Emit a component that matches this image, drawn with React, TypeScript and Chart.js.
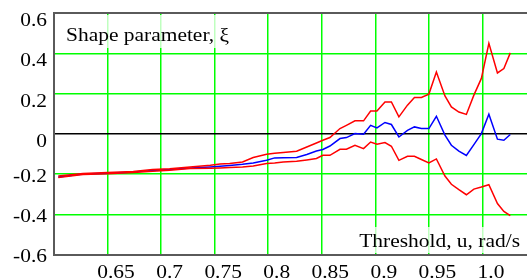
import React, { useEffect, useRef } from "react";
import { Chart, registerables } from "chart.js";

Chart.register(...registerables);

// Threshold values, u (rad/s)
const thresholds = [0.604, 0.627, 0.650, 0.674, 0.692, 0.708, 0.727, 0.746, 0.755, 0.764, 0.776, 0.786, 0.7985, 0.806, 0.814, 0.8265, 0.836, 0.845, 0.851, 0.8576, 0.867, 0.873, 0.881, 0.889, 0.8956, 0.9015, 0.909, 0.915, 0.922, 0.930, 0.9365, 0.943, 0.950, 0.957, 0.965, 0.971, 0.978, 0.985, 0.992, 0.999, 1.006, 1.014, 1.020, 1.026];
// Shape parameter estimate
const shapeEstimate = [-0.215, -0.200, -0.196, -0.190, -0.182, -0.178, -0.170, -0.165, -0.162, -0.158, -0.152, -0.145, -0.132, -0.120, -0.119, -0.118, -0.103, -0.086, -0.078, -0.061, -0.024, -0.019, 0.001, -0.002, 0.042, 0.029, 0.056, 0.046, -0.016, 0.017, 0.034, 0.026, 0.026, 0.087, -0.007, -0.057, -0.086, -0.108, -0.054, 0.001, 0.097, -0.027, -0.032, -0.004];
// Upper confidence bound
const shapeUpper = [-0.210, -0.197, -0.193, -0.187, -0.178, -0.174, -0.165, -0.157, -0.150, -0.148, -0.140, -0.118, -0.102, -0.097, -0.093, -0.087, -0.066, -0.046, -0.032, -0.019, 0.026, 0.042, 0.064, 0.064, 0.113, 0.113, 0.158, 0.158, 0.084, 0.142, 0.180, 0.180, 0.197, 0.307, 0.188, 0.133, 0.108, 0.096, 0.192, 0.275, 0.449, 0.302, 0.324, 0.402];
// Lower confidence bound
const shapeLower = [-0.218, -0.202, -0.199, -0.193, -0.186, -0.181, -0.173, -0.171, -0.170, -0.168, -0.165, -0.160, -0.148, -0.145, -0.140, -0.137, -0.130, -0.123, -0.107, -0.107, -0.077, -0.077, -0.057, -0.074, -0.041, -0.052, -0.044, -0.062, -0.132, -0.112, -0.112, -0.128, -0.145, -0.125, -0.210, -0.251, -0.278, -0.303, -0.275, -0.265, -0.253, -0.347, -0.386, -0.407];

const xTickValues = [0.65, 0.7, 0.75, 0.8, 0.85, 0.9, 0.95, 1.0];
const xTickLabels = ["0.65", "0.7", "0.75", "0.8", "0.85", "0.9", "0.95", "1.0"];
const yTickValues = [0.6, 0.4, 0.2, 0, -0.2, -0.4, -0.6];
const yTickLabels = ["0.6", "0.4", "0.2", "0", "-0.2", "-0.4", "-0.6"];

const yTitle = "Shape parameter, ξ";
const xTitle = "Threshold, u, rad/s";

const FONT = "19.5px 'Liberation Serif', 'Times New Roman', serif";
const SX = 1.1;
const GRID_GREEN = "rgb(0,255,0)";

function drawText(ctx: CanvasRenderingContext2D, text: string, x: number, y: number, align: CanvasTextAlign) {
  ctx.save();
  ctx.translate(x, y);
  ctx.scale(SX, 1);
  ctx.font = FONT;
  ctx.fillStyle = "#000";
  ctx.textAlign = align;
  ctx.textBaseline = "alphabetic";
  ctx.fillText(text, 0, 0);
  ctx.restore();
}

const near = (a: number, b: number) => Math.abs(a - b) < 1e-6;

const decorPlugin = {
  id: "decor",
  beforeDatasetsDraw(chart: any) {
    const ctx = chart.ctx as CanvasRenderingContext2D;
    ctx.save();
    ctx.fillStyle = "rgba(255,255,255,0.75)";
    ctx.fillRect(60, 15, 176, 33);
    ctx.fillRect(355, 227, 181, 26);
    ctx.restore();
  },
  afterDraw(chart: any) {
    const ctx = chart.ctx as CanvasRenderingContext2D;
    const xs = chart.scales.x;
    const ys = chart.scales.y;
    xTickValues.forEach((v, i) => {
      drawText(ctx, xTickLabels[i], xs.getPixelForValue(v) + 8.5, 277.5, "center");
    });
    yTickValues.forEach((v, i) => {
      const py = ys.getPixelForValue(v);
      drawText(ctx, yTickLabels[i], 47, py + (v >= 0 ? 13 : 7.5), "right");
    });
    drawText(ctx, yTitle, 66, 40.5, "left");
    drawText(ctx, xTitle, 520, 246.7, "right");
  },
};

export default function App() {
  const ref = useRef<HTMLCanvasElement>(null);
  useEffect(() => {
    if (!ref.current) return;
    const toPts = (arr: number[]) => thresholds.map((x, i) => ({ x, y: arr[i] }));
    const chart = new Chart(ref.current, {
      type: "line",
      data: {
        datasets: [
          { data: toPts(shapeUpper), borderColor: "#ff0000", borderWidth: 1.5, pointRadius: 0, tension: 0, fill: false },
          { data: toPts(shapeLower), borderColor: "#ff0000", borderWidth: 1.5, pointRadius: 0, tension: 0, fill: false },
          { data: toPts(shapeEstimate), borderColor: "#0000ff", borderWidth: 1.5, pointRadius: 0, tension: 0, fill: false },
        ],
      },
      options: {
        responsive: false,
        animation: false,
        devicePixelRatio: 1,
        layout: { padding: { left: 54, top: 13, right: 0, bottom: 25.5 } },
        plugins: { legend: { display: false }, tooltip: { enabled: false } },
        scales: {
          x: {
            type: "linear",
            min: 0.6,
            max: 1.05,
            ticks: { display: false, stepSize: 0.05 },
            afterFit: (s: any) => { s.height = 0; },
            grid: {
              drawTicks: false,
              color: (c: any) => (near(c.tick.value, 0.6) ? "#5a5a5a" : GRID_GREEN),
              lineWidth: (c: any) => (near(c.tick.value, 0.6) ? 2 : 1.5),
            },
            border: { display: true, color: "#5a5a5a", width: 2 },
          },
          y: {
            type: "linear",
            min: -0.6,
            max: 0.6,
            ticks: { display: false, stepSize: 0.2 },
            afterFit: (s: any) => { s.width = 0; },
            grid: {
              drawTicks: false,
              color: (c: any) => {
                const v = c.tick.value;
                if (near(v, 0)) return "#000";
                if (near(v, 0.6) || near(v, -0.6)) return "#5a5a5a";
                return GRID_GREEN;
              },
              lineWidth: (c: any) => {
                const v = c.tick.value;
                if (near(v, 0.6) || near(v, -0.6)) return 2;
                return 1.5;
              },
            },
            border: { display: true, color: "#5a5a5a", width: 2 },
          },
        },
      },
      plugins: [decorPlugin],
    } as any);
    return () => chart.destroy();
  }, []);
  return (
    <div style={{ position: "absolute", left: 0, top: 0, width: 527, height: 280, overflow: "hidden", background: "#fff" }}>
      <canvas ref={ref} width={536} height={280} style={{ width: 536, height: 280, display: "block" }} />
    </div>
  );
}
